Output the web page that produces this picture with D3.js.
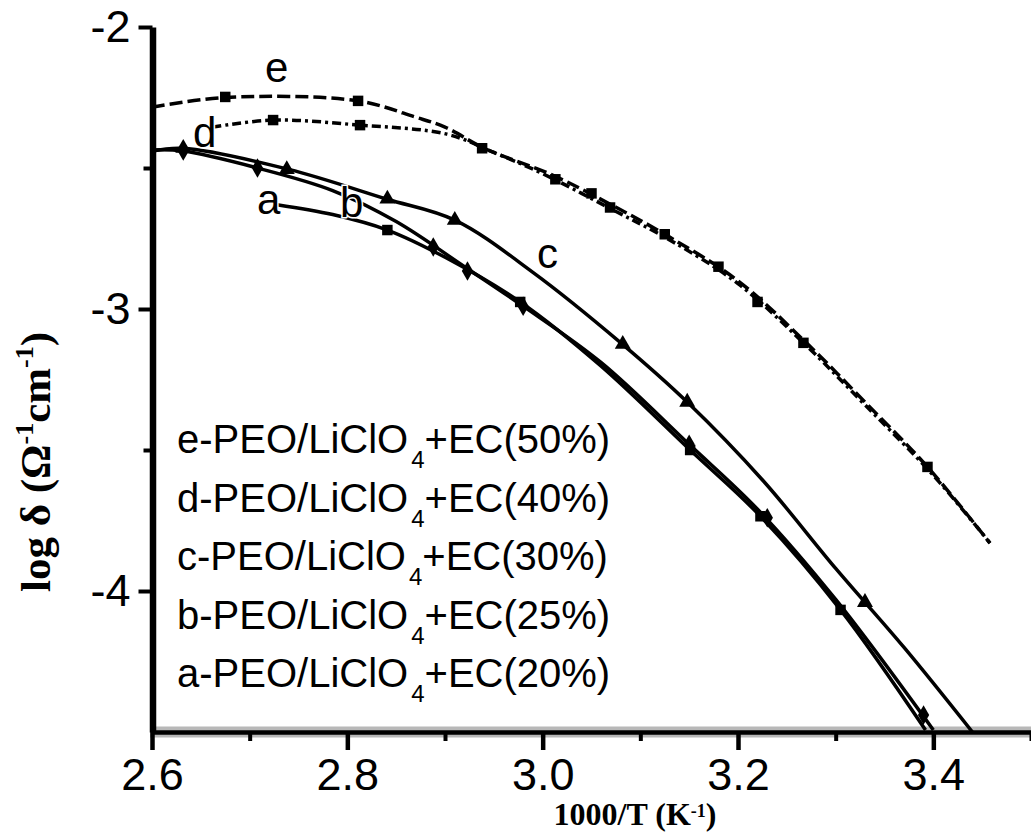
<!DOCTYPE html>
<html>
<head>
<meta charset="utf-8">
<script src="https://cdn.jsdelivr.net/npm/d3@7"></script>
<style>
  body { margin: 0; background: #fff; }
  svg { display: block; }
</style>
</head>
<body>
<svg id="chart" width="1031" height="832"></svg>
<script>
// axis ticks
var xMajor = [2.6, 2.8, 3.0, 3.2, 3.4];
var xMinor = [2.7, 2.9, 3.1, 3.3, 3.5];
var yMajor = [-2, -3, -4];
var yMinor = [-2.5, -3.5];

// curve e  (EC 50%)
var eX = [2.600, 2.675, 2.811, 2.870, 2.900, 2.940, 3.010, 3.070, 3.130, 3.200, 3.270, 3.330, 3.394, 3.458];
var eY = [-2.284, -2.250, -2.262, -2.320, -2.355, -2.430, -2.525, -2.630, -2.745, -2.900, -3.120, -3.330, -3.560, -3.830];
var eMX = [2.675, 2.811, 2.938, 3.050, 3.125, 3.220, 3.394];
var eMY = [-2.248, -2.262, -2.430, -2.590, -2.735, -2.975, -3.560];

// curve d  (EC 40%)
var dX = [2.662, 2.724, 2.813, 2.902, 2.950, 3.000, 3.070, 3.130, 3.200, 3.270, 3.330, 3.400, 3.458];
var dY = [-2.355, -2.330, -2.348, -2.380, -2.445, -2.520, -2.645, -2.755, -2.910, -3.130, -3.340, -3.590, -3.830];
var dMX = [2.724, 2.813, 3.013, 3.069, 3.180, 3.267];
var dMY = [-2.330, -2.348, -2.540, -2.640, -2.850, -3.120];

// curve c  (EC 30%)
var cX = [2.600, 2.632, 2.740, 2.840, 2.910, 2.990, 3.080, 3.148, 3.226, 3.300, 3.370, 3.440];
var cY = [-2.440, -2.430, -2.505, -2.610, -2.685, -2.870, -3.120, -3.330, -3.610, -3.920, -4.200, -4.500];
var cMX = [2.632, 2.738, 2.841, 2.910, 3.082, 3.148, 3.330];
var cMY = [-2.430, -2.505, -2.610, -2.685, -3.125, -3.330, -4.040];

// curve b  (EC 25%)
var bX = [2.600, 2.632, 2.708, 2.785, 2.850, 2.920, 2.980, 3.060, 3.150, 3.220, 3.300, 3.400];
var bY = [-2.436, -2.440, -2.500, -2.580, -2.690, -2.850, -2.990, -3.190, -3.480, -3.710, -4.030, -4.493];
var bMX = [2.632, 2.708, 2.888, 2.923, 2.980, 3.150, 3.230, 3.390];
var bMY = [-2.440, -2.500, -2.780, -2.865, -2.990, -3.480, -3.740, -4.440];

// curve a  (EC 20%)
var aX = [2.728, 2.785, 2.841, 2.902, 2.977, 3.059, 3.151, 3.223, 3.305, 3.392];
var aY = [-2.630, -2.665, -2.720, -2.820, -2.975, -3.200, -3.500, -3.735, -4.067, -4.493];
var aMX = [2.841, 2.977, 3.151, 3.223, 3.305];
var aMY = [-2.720, -2.975, -3.500, -3.735, -4.067];

var curveNames = ['e', 'd', 'c', 'b', 'a'];
var legendNames = ['e-PEO/LiClO', 'd-PEO/LiClO', 'c-PEO/LiClO', 'b-PEO/LiClO', 'a-PEO/LiClO'];
var legendTails = ['+EC(50%)', '+EC(40%)', '+EC(30%)', '+EC(25%)', '+EC(20%)'];

var svg = d3.select('#chart');
var x = d3.scaleLinear().domain([2.6, 3.5]).range([152, 1031]);
var y = d3.scaleLinear().domain([-2, -4.5]).range([27, 732]);

var sans = 'Liberation Sans, Arial, sans-serif';
var serif = 'Liberation Serif, Times New Roman, serif';

// x axis: grey halo like the scan, then black line
svg.append('line').attr('x1', 150).attr('x2', 1031).attr('y1', 732).attr('y2', 732)
  .attr('stroke', '#b8b8b8').attr('stroke-width', 11);

var gx = svg.append('g').attr('transform', 'translate(0,732)')
  .call(d3.axisBottom(x).tickValues(xMajor).tickSize(18).tickSizeOuter(0).tickPadding(8)
    .tickFormat(d3.format('.1f')));
gx.select('.domain').attr('stroke', '#000').attr('stroke-width', 4.5);
gx.selectAll('.tick line').attr('stroke', '#000').attr('stroke-width', 4.5);
gx.selectAll('.tick text').attr('font-family', sans).attr('font-size', 45).attr('fill', '#000');

var gxm = svg.append('g').attr('transform', 'translate(0,732)')
  .call(d3.axisBottom(x).tickValues(xMinor).tickSize(9).tickSizeOuter(0).tickFormat(''));
gxm.select('.domain').remove();
gxm.selectAll('.tick line').attr('stroke', '#000').attr('stroke-width', 4);

// y axis
var gy = svg.append('g').attr('transform', 'translate(152.5,0)')
  .call(d3.axisLeft(y).tickValues(yMajor).tickSize(14).tickSizeOuter(0).tickPadding(8)
    .tickFormat(function(d) { return String(d); }));
gy.select('.domain').attr('stroke', '#000').attr('stroke-width', 6.5);
gy.selectAll('.tick line').attr('stroke', '#000').attr('stroke-width', 4);
gy.selectAll('.tick text').attr('font-family', sans).attr('font-size', 45).attr('fill', '#000');

var gym = svg.append('g').attr('transform', 'translate(152.5,0)')
  .call(d3.axisLeft(y).tickValues(yMinor).tickSize(9).tickSizeOuter(0).tickFormat(''));
gym.select('.domain').remove();
gym.selectAll('.tick line').attr('stroke', '#000').attr('stroke-width', 4);

// curves
var line = d3.line().x(function(d) { return x(d[0]); }).y(function(d) { return y(d[1]); })
  .curve(d3.curveCatmullRom.alpha(0.5));

var series = [
  { xs: eX, ys: eY, mx: eMX, my: eMY, dash: '13,5', sym: d3.symbolSquare },
  { xs: dX, ys: dY, mx: dMX, my: dMY, dash: '9,4,3,4', sym: d3.symbolSquare },
  { xs: cX, ys: cY, mx: cMX, my: cMY, dash: null, sym: d3.symbolTriangle },
  { xs: bX, ys: bY, mx: bMX, my: bMY, dash: null, sym: d3.symbolDiamond },
  { xs: aX, ys: aY, mx: aMX, my: aMY, dash: null, sym: d3.symbolSquare }
];

series.forEach(function(s) {
  var pts = s.xs.map(function(v, i) { return [v, s.ys[i]]; });
  svg.append('path').attr('d', line(pts)).attr('fill', 'none').attr('stroke', '#000')
    .attr('stroke-width', 3.5).attr('stroke-dasharray', s.dash);
  s.mx.forEach(function(v, i) {
    svg.append('path').attr('d', d3.symbol().type(s.sym).size(110)())
      .attr('transform', 'translate(' + x(v) + ',' + y(s.my[i]) + ')').attr('fill', '#000');
  });
});

// curve labels
var labelPos = [[265, 82], [193, 147], [537, 268], [340, 217], [257, 214]];
curveNames.forEach(function(n, i) {
  svg.append('text').attr('x', labelPos[i][0]).attr('y', labelPos[i][1])
    .attr('font-family', sans).attr('font-size', 42).attr('fill', '#000')
    .style('paint-order', 'stroke').attr('stroke', '#fff').attr('stroke-width', 3)
    .text(n);
});

// legend
legendNames.forEach(function(n, i) {
  var t = svg.append('text').attr('x', 177).attr('y', 453 + i * 58.5)
    .attr('font-family', sans).attr('font-size', 40).attr('fill', '#000');
  t.append('tspan').text(n);
  t.append('tspan').attr('font-size', 24).attr('dy', 15).attr('dx', 3).text('4');
  t.append('tspan').attr('dy', -15).text(legendTails[i]);
});

// axis titles
var xt = svg.append('text').attr('x', 635).attr('y', 825).attr('text-anchor', 'middle')
  .attr('font-family', serif).attr('font-weight', 'bold').attr('font-size', 32).attr('fill', '#000');
xt.append('tspan').text('1000/T (K');
xt.append('tspan').attr('font-size', 18).attr('dy', -8).text('-1');
xt.append('tspan').attr('dy', 8).text(')');

var yt = svg.append('text').attr('transform', 'translate(50,462) rotate(-90)').attr('text-anchor', 'middle')
  .attr('font-family', serif).attr('font-weight', 'bold').attr('font-size', 43).attr('fill', '#000');
yt.append('tspan').text('log δ (Ω');
yt.append('tspan').attr('font-size', 26).attr('dy', -17).text('-1');
yt.append('tspan').attr('dy', 17).text('cm');
yt.append('tspan').attr('font-size', 26).attr('dy', -17).text('-1');
yt.append('tspan').attr('dy', 17).text(')');
</script>
</body>
</html>
